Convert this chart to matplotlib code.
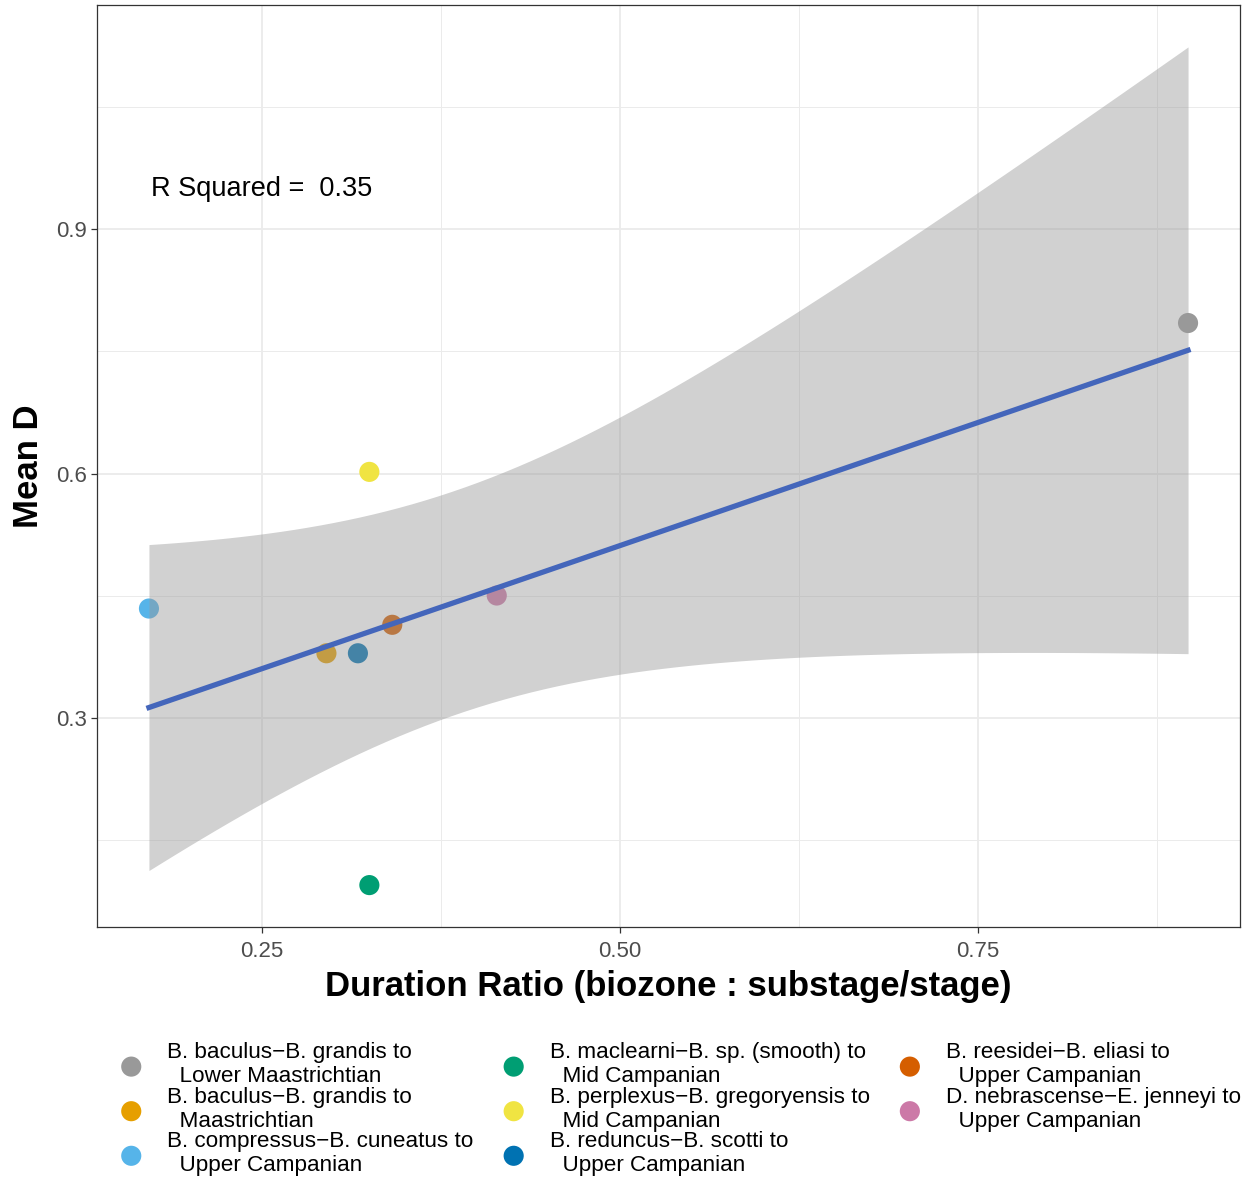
import numpy as np
import matplotlib
matplotlib.use("Agg")
import matplotlib.pyplot as plt
from matplotlib.ticker import MultipleLocator

plt.rcParams['font.family'] = ['Liberation Sans', 'DejaVu Sans']

# biozone pairs
etiquetas = [
    "B. baculus\u2212B. grandis to\n  Lower Maastrichtian",
    "B. baculus\u2212B. grandis to\n  Maastrichtian",
    "B. compressus\u2212B. cuneatus to\n  Upper Campanian",
    "B. maclearni\u2212B. sp. (smooth) to\n  Mid Campanian",
    "B. perplexus\u2212B. gregoryensis to\n  Mid Campanian",
    "B. reduncus\u2212B. scotti to\n  Upper Campanian",
    "B. reesidei\u2212B. eliasi to\n  Upper Campanian",
    "D. nebrascense\u2212E. jenneyi to\n  Upper Campanian",
]
duracion = np.array([0.897, 0.295, 0.171, 0.325, 0.325, 0.317, 0.341, 0.414])
mean_d = np.array([0.785, 0.379, 0.434, 0.094, 0.602, 0.379, 0.414, 0.450])
colores = ['#999999', '#E69F00', '#56B4E9', '#009E73',
           '#F0E442', '#0072B2', '#D55E00', '#CC79A7']
r_cuadrado = 0.35

# ajuste lineal y banda de confianza 95%
pend, inter = np.polyfit(duracion, mean_d, 1)
n = len(duracion)
xs = np.linspace(duracion.min(), duracion.max(), 80)
ys = inter + pend * xs
resid = mean_d - (inter + pend * duracion)
s = np.sqrt(np.sum(resid ** 2) / (n - 2))
sxx = np.sum((duracion - duracion.mean()) ** 2)
t975 = 2.446912  # t(0.975, df=6)
se = s * np.sqrt(1 / n + (xs - duracion.mean()) ** 2 / sxx)

fig = plt.figure(figsize=(12.52, 11.83), dpi=100)
ax = fig.add_axes([97 / 1252, 1 - 927 / 1183, (1240 - 97) / 1252, (927 - 5) / 1183])

handles = []
for xi, yi, c, lab in zip(duracion, mean_d, colores, etiquetas):
    h = ax.scatter(xi, yi, s=210, color=c, edgecolor='none', zorder=2, label=lab)
    handles.append(h)

ax.fill_between(xs, ys - t975 * se, ys + t975 * se, color='#999999', alpha=0.45,
                linewidth=0, zorder=3)
ax.plot(xs, ys, color='#4466BB', linewidth=3.8, zorder=4)

ax.text(0.25, 0.95, "R Squared =  %.2f" % r_cuadrado, fontsize=19.5,
        ha='center', va='center', color='black')

ax.margins(x=0.05, y=0.05)
ax.xaxis.set_major_locator(MultipleLocator(0.25))
ax.xaxis.set_minor_locator(MultipleLocator(0.125))
ax.yaxis.set_major_locator(MultipleLocator(0.3))
ax.yaxis.set_minor_locator(MultipleLocator(0.15))
ax.xaxis.set_major_formatter(plt.FuncFormatter(lambda v, p: "%.2f" % v))
ax.yaxis.set_major_formatter(plt.FuncFormatter(lambda v, p: "%.1f" % v))
ax.grid(which='major', color='#EBEBEB', linewidth=1.3, zorder=0)
ax.grid(which='minor', color='#EBEBEB', linewidth=0.7, zorder=0)
ax.set_axisbelow(True)
ax.tick_params(which='major', length=4, color='#333333', labelsize=16,
               labelcolor='#4D4D4D', width=0.9, pad=3)
ax.tick_params(axis='x', which='major', pad=6)
ax.tick_params(which='minor', length=0)
for sp in ax.spines.values():
    sp.set_color('#333333')
    sp.set_linewidth(0.9)

ax.set_xlabel("Duration Ratio (biozone : substage/stage)", fontsize=25,
              fontweight='bold', labelpad=6)
ax.set_ylabel("Mean D", fontsize=25, fontweight='bold', labelpad=8)

fig.legend(handles=handles, loc='upper left', bbox_to_anchor=(120 / 1252, 1 - 1042 / 1183),
           ncol=3, frameon=False, fontsize=16.2, handlelength=1.0, handletextpad=1.1,
           columnspacing=1.28, labelspacing=-0.02, borderpad=0, borderaxespad=0,
           scatterpoints=1)
for t in fig.legends[0].get_texts():
    t.set_linespacing(1.19)

fig.savefig('out.png', dpi=100)
